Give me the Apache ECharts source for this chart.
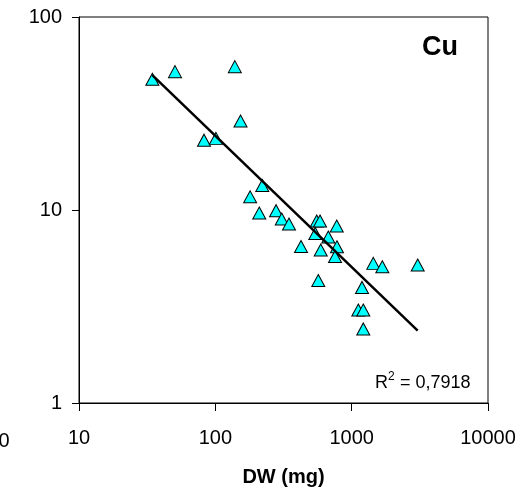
<!DOCTYPE html>
<html>
<head>
<meta charset="utf-8">
<script src="https://cdn.jsdelivr.net/npm/echarts@6/dist/echarts.min.js"></script>
<style>
html,body{margin:0;padding:0;background:#fff;}
#chart{width:527px;height:497px;}
</style>
</head>
<body>
<div id="chart"></div>
<script>
// DW (mg) values of the data points
var dwValues = [34.5, 50.6, 139, 153, 82.6, 101, 221, 180, 210, 279, 307, 347, 425, 554, 586, 777, 541, 674, 780, 593, 755, 569, 1441, 1678, 1191, 3050, 1119, 1217, 1217];
// Cu values of the data points
var cuValues = [47.6, 52.1, 55.3, 28.9, 23.0, 23.5, 13.4, 11.7, 9.65, 9.92, 8.98, 8.46, 6.47, 8.77, 8.77, 8.26, 7.55, 7.25, 6.45, 6.20, 5.74, 4.31, 5.29, 5.08, 3.97, 5.19, 3.03, 3.03, 2.42];
// power trend line end points
var trendX = [34.5, 3050];
var trendY = [50.0, 2.37];
var xTickLabels = ['10', '100', '1000', '10000'];
var yTickLabels = ['1', '10', '100'];
var seriesLabel = 'Cu';
var xAxisTitle = 'DW (mg)';
var r2Text = ' = 0,7918';

var FONT = "Arial, 'Liberation Sans', sans-serif";
var points = dwValues.map(function (x, i) { return [x, cuValues[i]]; });
var trend = trendX.map(function (x, i) { return [x, trendY[i]]; });

var chart = echarts.init(document.getElementById('chart'), null, {renderer: 'canvas'});
chart.setOption({
  backgroundColor: '#fff',
  animation: false,
  grid: {left: 79, right: 39, top: 17, bottom: 94, show: true, borderColor: '#000', borderWidth: 1},
  xAxis: {
    type: 'log', logBase: 10, min: 10, max: 10000,
    axisLine: {show: true, lineStyle: {color: '#000', width: 1}},
    axisTick: {show: true, length: 8, lineStyle: {color: '#000', width: 1}},
    splitLine: {show: false},
    minorTick: {show: false},
    axisLabel: {
      fontSize: 20, color: '#000', fontFamily: FONT, margin: 25,
      showMinLabel: true, showMaxLabel: true,
      formatter: function (v) { var k = Math.round(Math.log10(v)) - 1; return xTickLabels[k] || ''; }
    },
    name: xAxisTitle, nameLocation: 'middle', nameGap: 64,
    nameTextStyle: {fontSize: 20, fontWeight: 'bold', color: '#000', fontFamily: FONT}
  },
  yAxis: {
    type: 'log', logBase: 10, min: 1, max: 100,
    axisLine: {show: true, lineStyle: {color: '#000', width: 1}},
    axisTick: {show: true, length: 7, lineStyle: {color: '#000', width: 1}},
    splitLine: {show: false},
    axisLabel: {
      fontSize: 20, color: '#000', fontFamily: FONT, margin: 17,
      showMinLabel: true, showMaxLabel: true,
      formatter: function (v) { var k = Math.round(Math.log10(v)); return yTickLabels[k] || ''; }
    }
  },
  series: [
    {
      type: 'scatter', name: seriesLabel, data: points,
      symbol: 'triangle', symbolSize: [13, 12],
      itemStyle: {color: '#00FFFF', borderColor: '#000', borderWidth: 1, opacity: 1},
      z: 2
    },
    {
      type: 'line', data: trend, symbol: 'none',
      lineStyle: {color: '#000', width: 2.5},
      z: 3
    }
  ],
  graphic: [
    {type: 'text', left: 422, top: 34, style: {text: seriesLabel, font: 'bold 27px ' + FONT, fill: '#000'}},
    {type: 'text', x: 375, y: 383, style: {text: 'R', font: '18px ' + FONT, fill: '#000', textVerticalAlign: 'middle', textAlign: 'left'}},
    {type: 'text', x: 388, y: 377, style: {text: '2', font: '12px ' + FONT, fill: '#000', textVerticalAlign: 'middle', textAlign: 'left'}},
    {type: 'text', x: 395, y: 383, style: {text: r2Text, font: '18px ' + FONT, fill: '#000', textVerticalAlign: 'middle', textAlign: 'left'}},
    {type: 'text', x: 9.5, y: 441, style: {text: '100', font: '20px ' + FONT, fill: '#000', textVerticalAlign: 'middle', textAlign: 'right'}}
  ]
});
</script>
</body>
</html>
